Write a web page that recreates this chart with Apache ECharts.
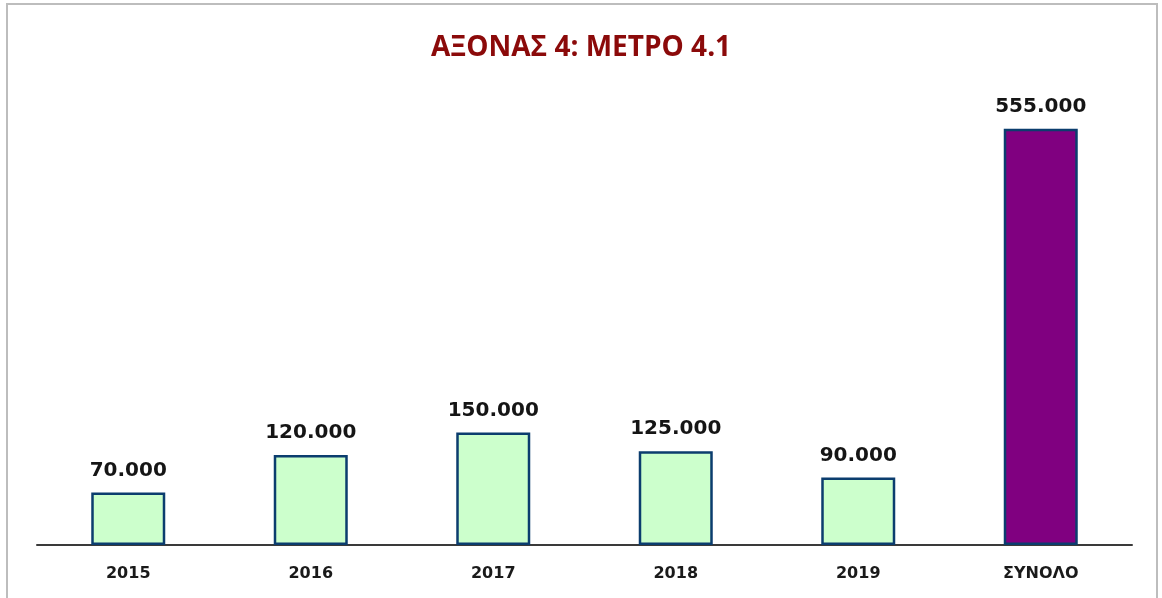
<!DOCTYPE html>
<html>
<head>
<meta charset="utf-8">
<script src="https://cdn.jsdelivr.net/npm/echarts@6/dist/echarts.min.js"></script>
<style>
  html, body { margin: 0; padding: 0; background: #ffffff; }
  #chart { width: 1162px; height: 598px; }
</style>
</head>
<body>
<div id="chart"></div>
<script>
// Funding per year for axis 4, measure 4.1, plus the overall total
const categories = ['2015', '2016', '2017', '2018', '2019', 'ΣΥΝΟΛΟ'];
const values = [70000, 120000, 150000, 125000, 90000, 555000];
const barColors = ['#ccffcc', '#ccffcc', '#ccffcc', '#ccffcc', '#ccffcc', '#800080'];

// Greek-style thousands separator: 555000 -> 555.000
function fmt(v) {
  return String(v).replace(/\B(?=(\d{3})+(?!\d))/g, '.');
}

const chart = echarts.init(document.getElementById('chart'), null, { renderer: 'canvas' });

chart.setOption({
  backgroundColor: '#ffffff',
  animation: false,
  title: {
    text: 'ΑΞΟΝΑΣ 4: ΜΕΤΡΟ 4.1',
    left: 'center',
    top: 29,
    textStyle: {
      color: '#8b0a0a',
      fontFamily: 'Open Sans',
      fontWeight: 'bold',
      fontSize: 28
    }
  },
  graphic: [{
    type: 'rect',
    shape: { x: 7, y: 4, width: 1150, height: 620 },
    style: { fill: 'none', stroke: '#bdbdbd', lineWidth: 2 },
    silent: true
  }],
  grid: { left: 37, top: 95, width: 1095, height: 450 },
  xAxis: {
    type: 'category',
    data: categories,
    axisLine: { lineStyle: { color: '#3a3a3a', width: 2 } },
    axisTick: { show: false },
    axisLabel: {
      margin: 21,
      color: '#1a1a1a',
      fontFamily: 'DejaVu Sans',
      fontWeight: 'bold',
      fontSize: 16
    }
  },
  yAxis: {
    type: 'value',
    min: 0,
    max: 600000,
    show: false,
    splitLine: { show: false }
  },
  series: [{
    type: 'bar',
    barWidth: 74,
    data: values.map((v, i) => ({
      value: v,
      itemStyle: { color: barColors[i] }
    })),
    itemStyle: { borderColor: '#0b3d6e', borderWidth: 2.5 },
    label: {
      show: true,
      position: 'top',
      distance: 12,
      formatter: p => fmt(p.value),
      color: '#151515',
      fontFamily: 'DejaVu Sans',
      fontWeight: 'bold',
      fontSize: 20
    }
  }]
});
</script>
</body>
</html>
